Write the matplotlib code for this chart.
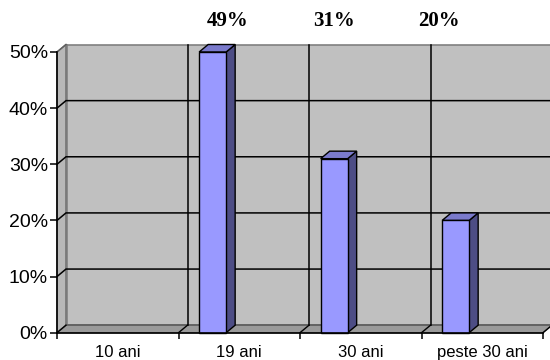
import matplotlib
matplotlib.use("Agg")
import matplotlib.pyplot as plt
from matplotlib.patches import Polygon
import numpy as np

plt.rcParams['font.family'] = ['Liberation Sans', 'DejaVu Sans']

categories = ["10 ani", "19 ani", "30 ani", "peste 30 ani"]
values = [0, 50, 31, 20]          # bar heights (%)
top_labels = ["49%", "31%", "20%"]
y_ticks = [0, 10, 20, 30, 40, 50]
y_tick_labels = ["0%", "10%", "20%", "30%", "40%", "50%"]

W, H = 550, 360
fig = plt.figure(figsize=(W / 100, H / 100), dpi=100)
fig.patch.set_facecolor("white")

ax_left, ax_right, ax_top, ax_bottom = 57, 543, 52, 332.7
ax = fig.add_axes([ax_left / W, (H - ax_bottom) / H,
                   (ax_right - ax_left) / W, (ax_bottom - ax_top) / H])
n = len(categories)
ymax = 50
ax.set_xlim(0, n)
ax.set_ylim(0, ymax)
ax.patch.set_visible(False)

# depth offsets (pixels -> data)
px_x = (ax_right - ax_left) / n
px_y = (ax_bottom - ax_top) / ymax
dx = 9 / px_x
dy = 7.5 / px_y

wall_c = "#c0c0c0"
# back wall
ax.add_patch(Polygon([(dx, dy), (n + dx, dy), (n + dx, ymax + dy), (dx, ymax + dy)],
                     closed=True, facecolor=wall_c, edgecolor="#808080", lw=1.2,
                     zorder=0, clip_on=False))
# left wall
ax.add_patch(Polygon([(0, 0), (dx, dy), (dx, ymax + dy), (0, ymax)],
                     closed=True, facecolor="#b8b8b8", edgecolor="#808080", lw=1.0,
                     zorder=0.1, clip_on=False))
ax.plot([dx, dx], [dy, ymax + dy], color="#7a7a7a", lw=1.8, zorder=0.2, clip_on=False)
# floor
ax.add_patch(Polygon([(0, 0), (n, 0), (n + dx, dy), (dx, dy)],
                     closed=True, facecolor="#9a9a9a", edgecolor="#707070", lw=1.0,
                     zorder=0.3, clip_on=False))
ax.plot([dx, n + dx], [dy, dy], color="#606060", lw=1.2, zorder=0.35, clip_on=False)

# gridlines: horizontal on back wall + diagonal on side wall
for t in y_ticks[1:-1]:
    ax.plot([0, dx, n + dx], [t, t + dy, t + dy], color="black", lw=1.1,
            zorder=0.5, clip_on=False)
ax.plot([0, dx], [ymax, ymax + dy], color="#606060", lw=1.1, zorder=0.5, clip_on=False)
# vertical gridlines on back wall + diagonals on floor
for i in range(1, n):
    ax.plot([i + dx, i + dx], [dy, ymax + dy], color="black", lw=1.1,
            zorder=0.5, clip_on=False)
for i in range(0, n + 1):
    ax.plot([i, i + dx], [0, dy], color="black", lw=1.0, zorder=0.6, clip_on=False)

# bars
bar_w = 27 / px_x
bar_off = 0.17
xs = np.arange(n) + bar_off
for x, v in zip(xs, values):
    if v <= 0:
        continue
    ax.bar(x, v, width=bar_w, align="edge", color="#9999ff", edgecolor="black",
           lw=1.0, zorder=2, clip_on=False)
    ax.add_patch(Polygon([(x + bar_w, 0), (x + bar_w + dx, dy),
                          (x + bar_w + dx, v + dy), (x + bar_w, v)],
                         closed=True, facecolor="#4d4d85", edgecolor="black",
                         lw=1.0, zorder=1.9, clip_on=False))
    ax.add_patch(Polygon([(x, v), (x + bar_w, v), (x + bar_w + dx, v + dy),
                          (x + dx, v + dy)],
                         closed=True, facecolor="#7a7acc", edgecolor="black",
                         lw=1.0, zorder=1.9, clip_on=False))

# axes / spines
for s in ["top", "right"]:
    ax.spines[s].set_visible(False)
for s in ["left", "bottom"]:
    ax.spines[s].set_color("black")
    ax.spines[s].set_linewidth(1.2)
    ax.spines[s].set_zorder(3)

ax.set_yticks(y_ticks)
ax.set_yticklabels(y_tick_labels)
ax.tick_params(axis="y", direction="out", length=5, width=1.1, pad=1.5,
               labelsize=14, colors="black")
ax.set_xticks(np.arange(n + 1))
ax.set_xticklabels([])
ax.tick_params(axis="x", which="major", direction="out", length=4, width=1.1)
ax.set_xticks(np.arange(n) + 0.5, minor=True)
ax.set_xticklabels(categories, minor=True)
ax.tick_params(axis="x", which="minor", length=0, pad=9, labelsize=12)

# top percentage labels
label_x_px = [228, 334, 439]
for lx, lab in zip(label_x_px, top_labels):
    fig.text(lx / W, 1 - 26.5 / H, lab, ha="center", va="baseline",
             family=["Liberation Serif", "DejaVu Serif"], weight="bold",
             fontsize=15)

fig.savefig("out.png", dpi=100, facecolor="white")
